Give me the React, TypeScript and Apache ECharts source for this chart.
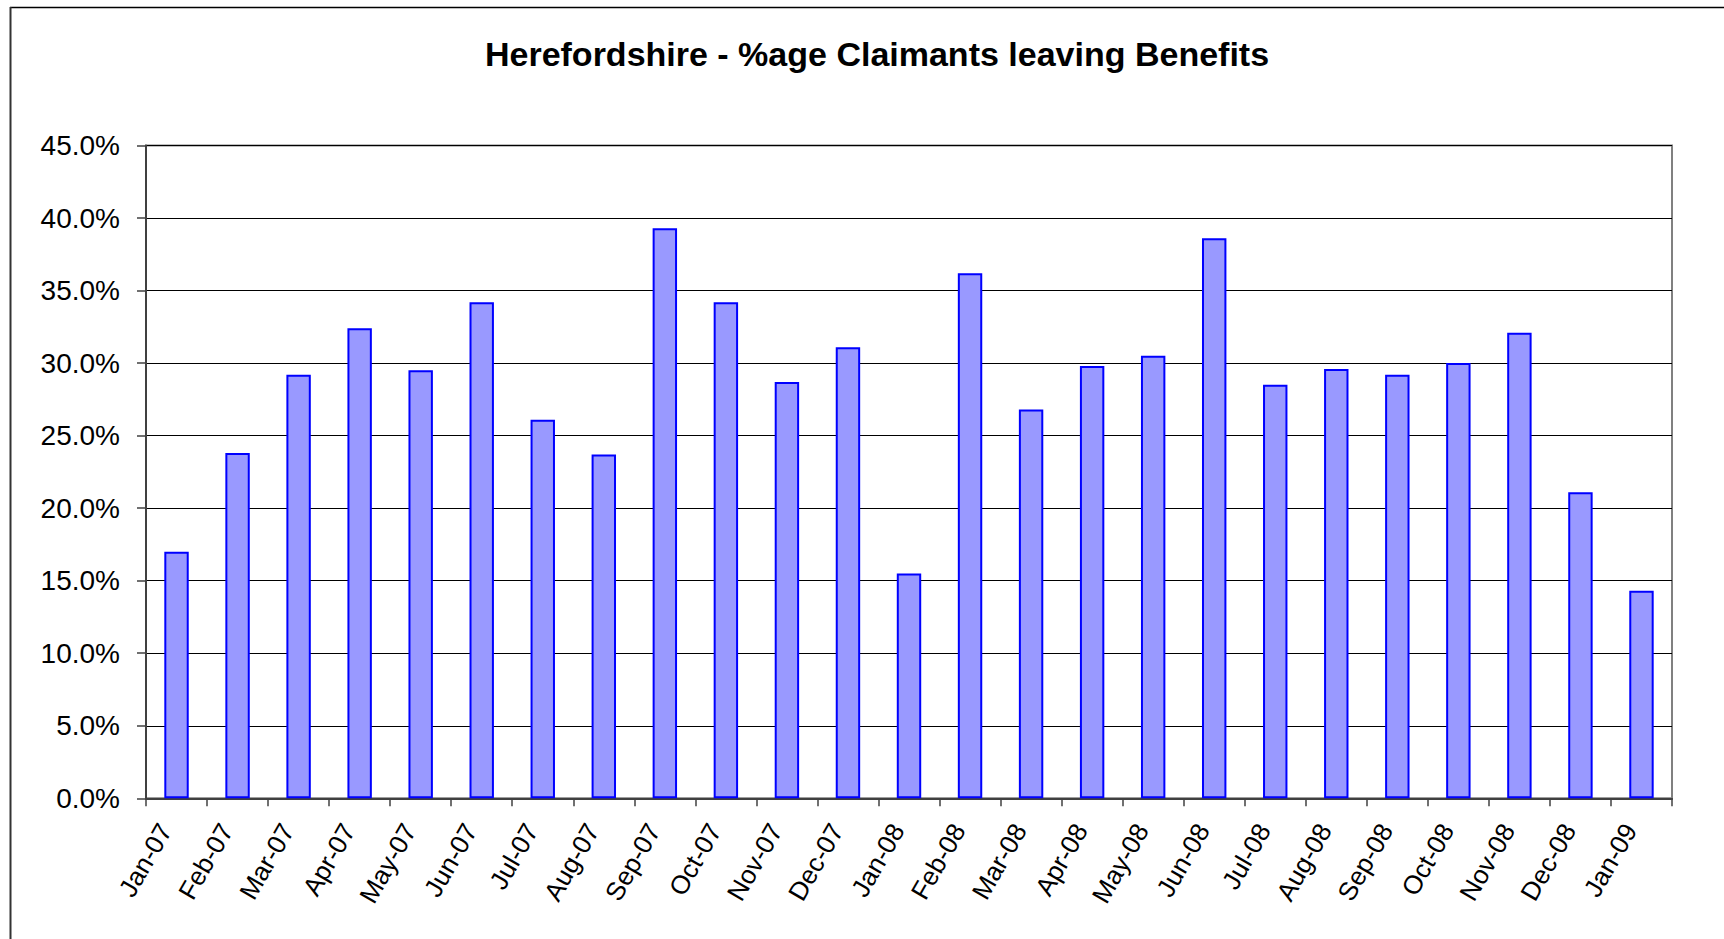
import React, { useEffect, useRef } from "react";
import * as echarts from "echarts";

const categories = [
  "Jan-07", "Feb-07", "Mar-07", "Apr-07", "May-07", "Jun-07", "Jul-07", "Aug-07",
  "Sep-07", "Oct-07", "Nov-07", "Dec-07", "Jan-08", "Feb-08", "Mar-08", "Apr-08",
  "May-08", "Jun-08", "Jul-08", "Aug-08", "Sep-08", "Oct-08", "Nov-08", "Dec-08", "Jan-09",
];

const leavingPct = [
  17.0, 23.8, 29.2, 32.4, 29.5, 34.2, 26.1, 23.7, 39.3, 34.2, 28.7, 31.1, 15.5,
  36.2, 26.8, 29.8, 30.5, 38.6, 28.5, 29.6, 29.2, 30.0, 32.1, 21.1, 14.3,
];

const titleText = "Herefordshire - %age Claimants leaving Benefits";
const yMin = 0;
const yMax = 45;
const yStep = 5;

const FONT = "'Liberation Sans', Arial, sans-serif";

export default function App() {
  const ref = useRef<HTMLDivElement>(null);

  useEffect(() => {
    if (!ref.current) return;
    const chart = echarts.init(ref.current, null, { renderer: "svg" });
    chart.setOption({
      animation: false,
      backgroundColor: "#ffffff",
      title: {
        text: titleText,
        left: 872,
        top: 32,
        textAlign: "center",
        textStyle: {
          fontFamily: FONT,
          fontSize: 34,
          fontWeight: "bold",
          color: "#000000",
        },
      },
      graphic: [
        {
          type: "line",
          shape: { x1: 10, y1: 7.5, x2: 1724, y2: 7.5 },
          style: { stroke: "#000000", lineWidth: 1.5 },
        },
        {
          type: "line",
          shape: { x1: 10.5, y1: 7, x2: 10.5, y2: 939 },
          style: { stroke: "#333333", lineWidth: 2 },
        },
      ],
      grid: {
        left: 146,
        right: 52,
        top: 145.5,
        bottom: 140.7,
        show: true,
        borderColor: "#808080",
        borderWidth: 2,
        containLabel: false,
      },
      xAxis: {
        type: "category",
        data: categories,
        boundaryGap: true,
        axisLine: { show: true, lineStyle: { color: "#404040", width: 2 } },
        axisTick: {
          show: true,
          alignWithLabel: false,
          interval: 0,
          length: 8,
          lineStyle: { color: "#404040", width: 1.5 },
        },
        axisLabel: {
          interval: 0,
          rotate: 60,
          margin: 34,
          verticalAlign: "bottom",
          lineHeight: 26,
          fontFamily: FONT,
          fontSize: 26,
          color: "#000000",
        },
        splitLine: { show: false },
      },
      yAxis: {
        type: "value",
        min: yMin,
        max: yMax,
        interval: yStep,
        axisLine: { show: true, lineStyle: { color: "#404040", width: 2 } },
        axisTick: {
          show: true,
          inside: false,
          length: 9,
          lineStyle: { color: "#404040", width: 1.5 },
        },
        axisLabel: {
          margin: 26,
          fontFamily: FONT,
          fontSize: 28,
          color: "#000000",
          formatter: (v: number) => v.toFixed(1) + "%",
        },
        splitLine: { show: true, lineStyle: { color: "#000000", width: 1 } },
      },
      series: [
        {
          type: "bar",
          data: leavingPct,
          barWidth: "40%",
          itemStyle: {
            color: "#9999FF",
            borderColor: "#0000FF",
            borderWidth: 2,
          },
        },
      ],
    });
    return () => chart.dispose();
  }, []);

  return (
    <div
      ref={ref}
      style={{ position: "absolute", left: 0, top: 0, width: 1724, height: 939 }}
    />
  );
}
